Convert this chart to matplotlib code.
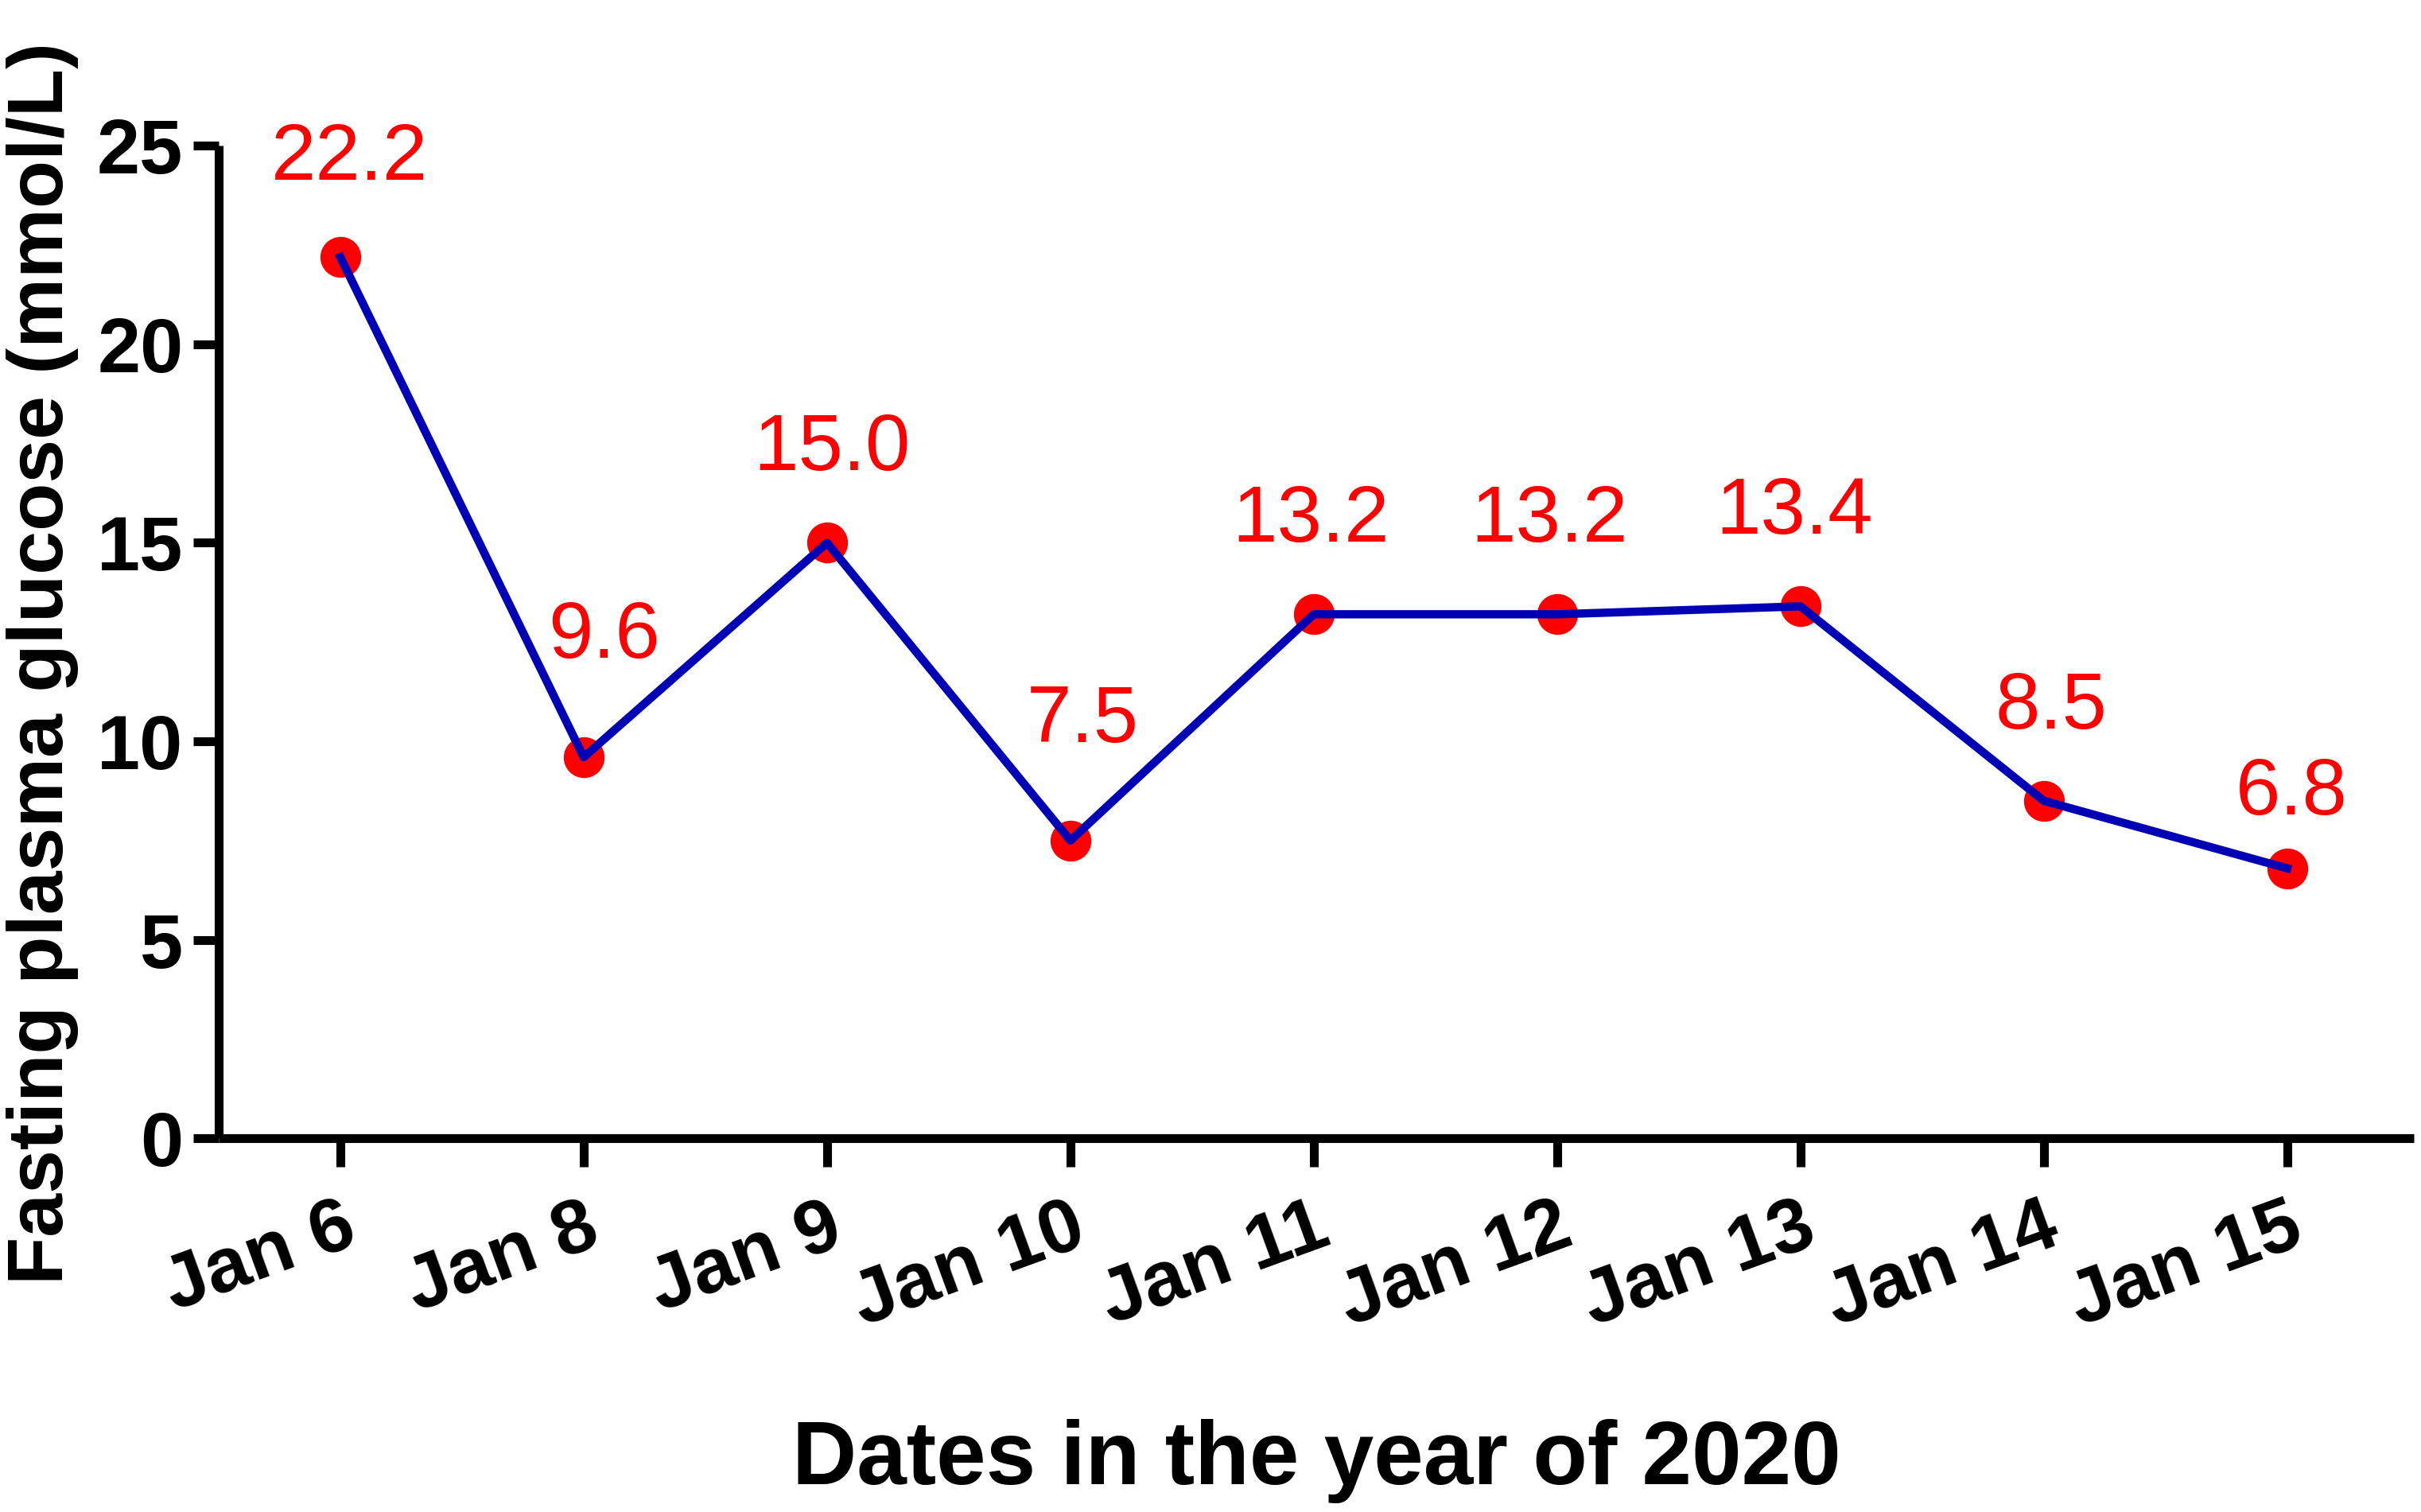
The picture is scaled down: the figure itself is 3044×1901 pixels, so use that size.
import matplotlib
matplotlib.use('Agg')
import matplotlib.pyplot as plt

# data
dates = ['Jan 6', 'Jan 8', 'Jan 9', 'Jan 10', 'Jan 11', 'Jan 12', 'Jan 13', 'Jan 14', 'Jan 15']
glucose = [22.2, 9.6, 15.0, 7.5, 13.2, 13.2, 13.4, 8.5, 6.8]
y_ticks = [0, 5, 10, 15, 20, 25]

# hand placed value labels (pixels from the point)
label_dx = [12, 26, 6, 15, -4, -10, -8, 9, 6]
label_dy = [97, 125, 91, 124, 91, 91, 91, 91, 68]

plt.rcParams['font.family'] = ['Liberation Sans', 'DejaVu Sans']

fig = plt.figure(figsize=(30.44, 19.01), dpi=100)
ax = fig.add_axes([0.0903, 0.2472, 0.997 - 0.0903, 0.9035 - 0.2472])

x = list(range(len(dates)))
ax.plot(x, glucose, 'o', color='#ff0000', markersize=36, zorder=2)
ax.plot(x, glucose, '-', color='#0000b4', linewidth=7.5, zorder=3)

for i, v in enumerate(glucose):
    ax.annotate('%.1f' % v, (i, v), xytext=(label_dx[i], label_dy[i]),
                textcoords='offset pixels', ha='center', va='baseline',
                color='#ff0000', fontsize=73)

ax.set_xlim(-0.5, 8.52)
ax.set_ylim(0, 25)
ax.set_yticks(y_ticks)
ax.set_xticks(x)
ax.set_xticklabels(dates, rotation=20, ha='right', va='top', rotation_mode='anchor')

for s in ['top', 'right']:
    ax.spines[s].set_visible(False)
for s in ['left', 'bottom']:
    ax.spines[s].set_linewidth(8)
    ax.spines[s].set_capstyle('butt')

ax.tick_params(axis='y', length=23, width=8, pad=9, labelsize=70)
ax.tick_params(axis='x', length=26, width=8, pad=22, labelsize=70)
for lab in ax.get_xticklabels() + ax.get_yticklabels():
    lab.set_fontweight('bold')

fig.text(0.0175, 0.561, 'Fasting plasma glucose (mmol/L)', rotation=90,
         ha='center', va='center', fontsize=71, fontweight='bold')
fig.text(1655 / 3044, 1 - 1866 / 1901, 'Dates in the year of 2020',
         ha='center', va='baseline', fontsize=81, fontweight='bold')

fig.savefig('out.png', dpi=100, facecolor='white')
